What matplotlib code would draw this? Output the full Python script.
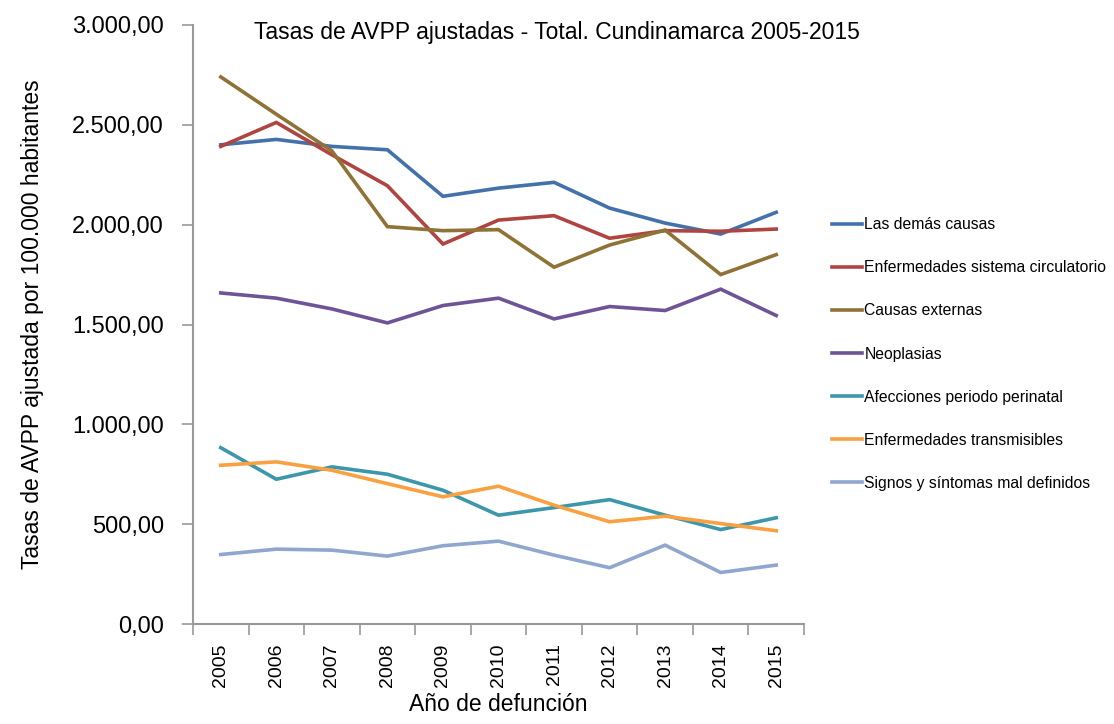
import numpy as np
import matplotlib
matplotlib.use("Agg")
import matplotlib.pyplot as plt
from matplotlib.ticker import FuncFormatter, FixedLocator

plt.rcParams['font.family'] = ['Liberation Sans', 'DejaVu Sans']

years = ['2005', '2006', '2007', '2008', '2009', '2010', '2011', '2012', '2013', '2014', '2015']

demas_causas = [2400, 2427, 2392, 2375, 2142, 2183, 2212, 2083, 2008, 1953, 2062]
circulatorio = [2392, 2512, 2350, 2195, 1903, 2023, 2045, 1932, 1970, 1967, 1978]
externas = [2740, 2553, 2370, 1990, 1970, 1975, 1787, 1898, 1973, 1750, 1850]
neoplasias = [1658, 1632, 1578, 1508, 1595, 1632, 1528, 1590, 1570, 1677, 1545]
perinatal = [883, 725, 787, 750, 670, 545, 583, 623, 545, 473, 532]
transmisibles = [795, 812, 770, 703, 637, 690, 595, 512, 540, 503, 467]
mal_definidos = [348, 375, 370, 340, 392, 415, 345, 282, 395, 258, 295]

series = [
    ("Las demás causas", demas_causas, '#4372ab'),
    ("Enfermedades sistema circulatorio", circulatorio, '#b04440'),
    ("Causas externas", externas, '#8f7236'),
    ("Neoplasias", neoplasias, '#6e5497'),
    ("Afecciones periodo perinatal", perinatal, '#3c97ab'),
    ("Enfermedades transmisibles", transmisibles, '#f9a040'),
    ("Signos y síntomas mal definidos", mal_definidos, '#8fa6cf'),
]

fig = plt.figure(figsize=(11.14, 7.24), dpi=100)
ax = fig.add_axes([193 / 1114, 100 / 724, 611 / 1114, 599 / 724])

x = np.arange(len(years))
for name, vals, col in series:
    ax.plot(x, vals, color=col, lw=2.6, label=name, solid_joinstyle='miter')

ax.set_xlim(-0.5, len(years) - 0.5)
ax.set_ylim(0, 3000)
ax.set_yticks(np.arange(0, 3001, 500))

def fmt(v, pos):
    s = f"{v:,.2f}"
    return s.replace(",", "X").replace(".", ",").replace("X", ".")

ax.yaxis.set_major_formatter(FuncFormatter(fmt))
ax.set_xticks(x)
ax.set_xticklabels(years, rotation=90, fontsize=14)
ax.xaxis.set_minor_locator(FixedLocator(np.arange(-0.5, len(years), 1)))
ax.tick_params(axis='x', which='major', length=0, pad=14)
ax.tick_params(axis='x', which='minor', length=8, color='#999999', width=1.2)
ax.tick_params(axis='y', length=8, color='#999999', width=1.2, labelsize=17, pad=13)

for s in ['top', 'right']:
    ax.spines[s].set_visible(False)
for s in ['left', 'bottom']:
    ax.spines[s].set_color('#999999')
    ax.spines[s].set_linewidth(1.5)

ax.set_ylabel("Tasas de AVPP ajustada por 100.000 habitantes", fontsize=16.5, labelpad=20)
ax.set_xlabel("Año de defunción", fontsize=16.5, labelpad=4)
fig.text(557 / 1114, 1 - 32 / 724, "Tasas de AVPP ajustadas - Total. Cundinamarca 2005-2015",
         ha='center', va='center', fontsize=16.5)

ax.legend(loc='upper left', bbox_to_anchor=(826 / 1114, 1 - 211 / 724), bbox_transform=fig.transFigure,
          frameon=False, fontsize=11.3, handlelength=1.9, handletextpad=0.15, labelspacing=1.79,
          borderaxespad=0)

fig.savefig('out.png', dpi=100)
